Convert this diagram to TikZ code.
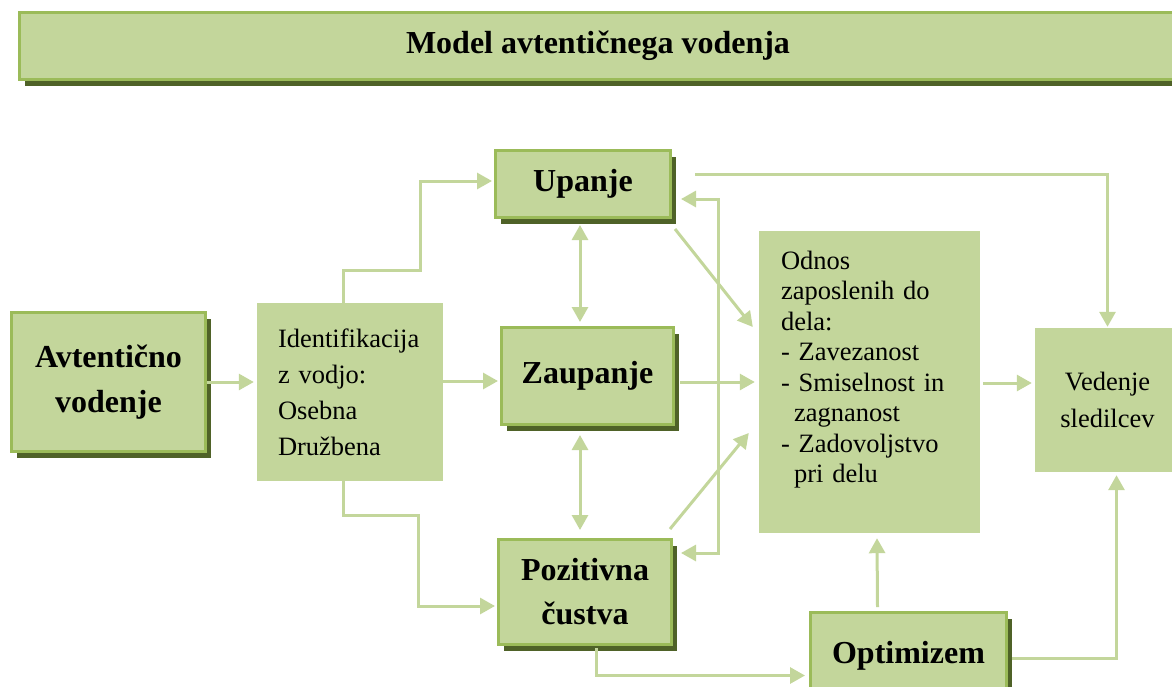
\documentclass[tikz,border=0pt]{standalone}
\usepackage{fontspec}
\setmainfont{Liberation Serif}
\usetikzlibrary{arrows.meta,shadows,calc}
\definecolor{boxfill}{HTML}{C3D69B}
\definecolor{boxedge}{HTML}{9BBB59}
\definecolor{boxshade}{HTML}{4F6228}
\definecolor{linkc}{HTML}{C3D69B}
\begin{document}
\begin{tikzpicture}[x=1pt,y=-1pt,
  keybox/.style={rectangle, fill=boxfill, draw=boxedge, line width=3pt,
    inner sep=0pt, align=center, font=\bfseries\fontsize{32}{45}\selectfont,
    general shadow={fill=boxshade, shadow xshift=5pt, shadow yshift=-6pt}},
  plainbox/.style={rectangle, fill=boxfill, inner sep=0pt,
    font=\fontsize{26.5}{36}\selectfont},
  conn/.style={draw=linkc, line width=3pt,
    arrows={-Triangle[length=15pt,width=16pt]}},
  both/.style={draw=linkc, line width=3pt,
    arrows={Triangle[length=15pt,width=16pt]-Triangle[length=15pt,width=16pt]}},
]
\useasboundingbox (0,0) rectangle (1172,686);

% heading bar
\node[keybox, minimum width=1157pt, minimum height=67pt,
  font=\bfseries\fontsize{32}{36}\selectfont] (title) at (598,46)
  {Model avtentičnega vodenja};

% boxes
\node[keybox, minimum width=194pt, minimum height=139pt] (av) at (108.5,382)
  {Avtentično\\vodenje};
\node[plainbox, minimum width=186pt, minimum height=178pt, text width=144pt,
  align=left] (id) at (350,392)
  {Identifikacija\\z vodjo:\\Osebna\\Družbena};
\node[keybox, minimum width=175pt, minimum height=67pt] (up) at (583,184) {Upanje};
\node[keybox, minimum width=172pt, minimum height=97pt] (za) at (587.5,376) {Zaupanje};
\node[keybox, minimum width=173pt, minimum height=105pt,
  font=\bfseries\fontsize{32}{44}\selectfont] (po) at (585,592)
  {Pozitivna\\čustva};
\node[keybox, minimum width=196pt, minimum height=86pt] (op) at (908.5,655.5) {Optimizem};
\node[plainbox, minimum width=221pt, minimum height=302pt, text width=177pt,
  align=left, font=\fontsize{26.5}{30.5}\selectfont] (od) at (869.5,382)
  {Odnos\\zaposlenih do\\dela:\\- Zavezanost\\- Smiselnost in\\\hspace*{13pt}zagnanost\\- Zadovoljstvo\\\hspace*{13pt}pri delu\\\mbox{}};
\node[plainbox, minimum width=145pt, minimum height=144pt, align=center,
  font=\fontsize{26.5}{37}\selectfont] (ve) at (1107.5,400)
  {Vedenje\\sledilcev};

% connectors
\draw[conn, shorten >=3pt] (av.east) -- (av.east -| id.west);
\draw[conn, shorten >=2pt] ($(id.north)+(-7,0)$) |- (420,270) |- ([yshift=3pt]up.west);
\draw[conn, shorten >=2pt] ($(id.east |- za.west)+(0,5)$) -- ($(za.west)+(0,5)$);
\draw[conn, shorten >=2pt] ($(id.south)+(-7,0)$) |- (418,515) |- ($(po.west)+(0,14)$);

\draw[both, shorten <=6pt, shorten >=4pt] ($(up.south)+(-3,0)$) -- ($(up.south |- za.north)+(-3,0)$);
\draw[both, shorten <=9pt, shorten >=8pt] ($(za.south)+(-7.5,0)$) -- ($(za.south |- po.north)+(-7.5,0)$);

\draw[conn, shorten >=1pt] ($(up.east)+(23,-10)$) -| (ve.north);
\draw[both] ($(up.east)+(9,15)$) -| ($(po.east)+(45,-39)$) -- ($(po.east)+(8,-39)$);

\draw[conn] ($(up.south east)+(3,10)$) -- ($(od.west)+(-6,-55)$);
\draw[conn] ($(za.east |- od.west)+(5,0)$) -- ($(od.west)+(-4,0)$);
\draw[conn] ($(po.north east)+(-3,-9)$) -- ($(od.west)+(-10,51)$);

\draw[conn] ($(od.east)+(3,1)$) -- ($(od.east -| ve.west)+(-3,1)$);
\draw[conn] ($(op.north)+(-31,-4)$) -- ($(od.south)+(7.5,5)$);
\draw[conn, shorten >=3pt] ($(op.east)+(4,2.5)$) -| ($(ve.south)+(9,0)$);
\draw[conn, shorten >=4pt] ($(po.south)+(11,2)$) |- ($(op.west)+(0,20)$);
\end{tikzpicture}
\end{document}
